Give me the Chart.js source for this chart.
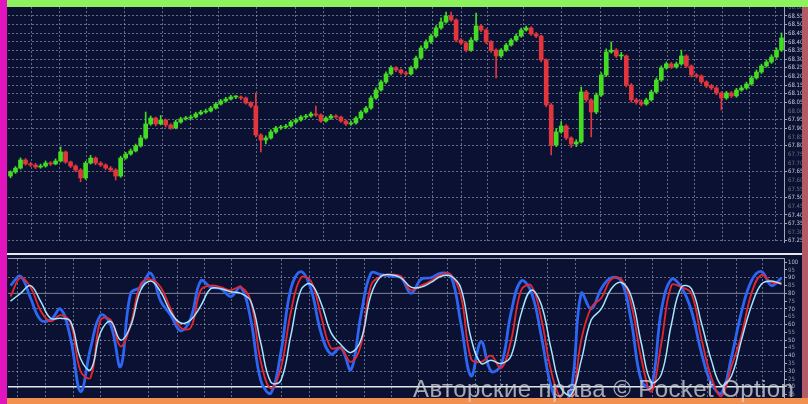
<!DOCTYPE html>
<html>
<head>
<meta charset="utf-8">
<script src="https://cdn.jsdelivr.net/npm/chart.js@4.4.1/dist/chart.umd.min.js"></script>
<style>
  html, body { margin: 0; padding: 0; width: 808px; height: 404px; overflow: hidden; background: #0b1133; }
  body { position: relative; }
  .frame { position: absolute; }
  #priceChart { position: absolute; left: 8px; top: 7px; }
  #stochChart { position: absolute; left: 8px; top: 258px; }
  #watermark {
    position: absolute; left: 413px; top: 377px; z-index: 5;
    font: 24px "Liberation Sans", Arial, sans-serif; line-height: 24px; letter-spacing: 0.4px;
    color: rgba(210, 210, 212, 0.78); white-space: nowrap;
  }
</style>
</head>
<body>
<canvas id="priceChart" width="794" height="236"></canvas>
<canvas id="stochChart" width="794" height="160"></canvas>
<div class="frame" style="left:7px; top:253px; width:795px; height:2px; background:#e6e8ee;"></div>
<div class="frame" style="left:0; top:0; width:7px; height:404px; background:#e214bd;"></div>
<div class="frame" style="left:7px; top:0; width:801px; height:7px; background:#8cf25e;"></div>
<div class="frame" style="left:802px; top:7px; width:6px; height:391px; background:#b35a66;"></div>
<div class="frame" style="left:7px; top:398px; width:801px; height:6px; background:#f2914f;"></div>
<div id="watermark">Авторские права © Pocket Option</div>

<script>
// candles, one per period (opens follow the previous close)
const firstOpen = 67.625;
const closes = [
  67.648, 67.671, 67.718, 67.695, 67.689, 67.677, 67.683, 67.700, 67.695, 67.712,
  67.764, 67.706, 67.683, 67.660, 67.614, 67.700, 67.729, 67.700, 67.689, 67.671,
  67.660, 67.625, 67.729, 67.752, 67.770, 67.799, 67.845, 67.926, 67.960, 67.926,
  67.949, 67.920, 67.903, 67.937, 67.955, 67.960, 67.966, 67.984, 67.995, 68.001,
  68.018, 68.041, 68.059, 68.070, 68.082, 68.082, 68.076, 68.047, 68.030, 67.862,
  67.833, 67.845, 67.880, 67.903, 67.908, 67.914, 67.937, 67.949, 67.966, 67.972,
  67.984, 67.978, 67.943, 67.960, 67.972, 67.966, 67.943, 67.926, 67.932, 67.960,
  67.995, 68.018, 68.076, 68.122, 68.169, 68.215, 68.250, 68.238, 68.221, 68.215,
  68.250, 68.307, 68.365, 68.400, 68.434, 68.481, 68.515, 68.550, 68.527, 68.411,
  68.394, 68.353, 68.411, 68.492, 68.469, 68.400, 68.353, 68.319, 68.353, 68.382,
  68.411, 68.434, 68.469, 68.481, 68.446, 68.434, 68.296, 68.036, 67.804, 67.880,
  67.914, 67.845, 67.810, 67.822, 68.111, 68.065, 67.995, 68.093, 68.209, 68.342,
  68.353, 68.319, 68.319, 68.151, 68.065, 68.053, 68.041, 68.065, 68.111, 68.180,
  68.250, 68.273, 68.255, 68.273, 68.319, 68.261, 68.209, 68.203, 68.169, 68.145,
  68.134, 68.105, 68.076, 68.105, 68.088, 68.122, 68.134, 68.157, 68.192, 68.226,
  68.261, 68.284, 68.313, 68.353, 68.423
];
const highs = [
  67.655, 67.680, 67.730, 67.726, 67.705, 67.698, 67.694, 67.712, 67.708, 67.724,
  67.793, 67.770, 67.712, 67.690, 67.668, 67.710, 67.745, 67.736, 67.708, 67.696,
  67.680, 67.668, 67.740, 67.762, 67.782, 67.810, 67.860, 67.995, 67.972, 67.966,
  67.975, 67.955, 67.928, 67.948, 67.965, 67.970, 67.978, 67.994, 68.005, 68.012,
  68.028, 68.050, 68.068, 68.080, 68.092, 68.090, 68.088, 68.082, 68.055, 68.105,
  67.870, 67.858, 67.892, 67.912, 67.918, 67.924, 67.946, 67.958, 67.975, 67.982,
  67.995, 68.030, 67.985, 67.968, 67.982, 67.980, 67.972, 67.950, 67.942, 67.968,
  68.004, 68.028, 68.088, 68.135, 68.180, 68.228, 68.262, 68.258, 68.245, 68.230,
  68.260, 68.318, 68.378, 68.412, 68.446, 68.494, 68.540, 68.573, 68.573, 68.534,
  68.420, 68.400, 68.425, 68.567, 68.500, 68.476, 68.408, 68.360, 68.362, 68.392,
  68.420, 68.445, 68.480, 68.492, 68.488, 68.455, 68.440, 68.302, 68.045, 67.900,
  67.940, 67.922, 67.852, 67.835, 68.140, 68.120, 68.072, 68.105, 68.222, 68.360,
  68.400, 68.362, 68.340, 68.325, 68.160, 68.075, 68.065, 68.075, 68.122, 68.192,
  68.262, 68.284, 68.282, 68.284, 68.353, 68.326, 68.268, 68.218, 68.210, 68.176,
  68.155, 68.142, 68.112, 68.115, 68.114, 68.132, 68.145, 68.168, 68.204, 68.238,
  68.272, 68.296, 68.326, 68.366, 68.452
];
const lows = [
  67.615, 67.640, 67.665, 67.688, 67.680, 67.668, 67.670, 67.676, 67.686, 67.690,
  67.706, 67.698, 67.674, 67.650, 67.592, 67.606, 67.694, 67.690, 67.680, 67.662,
  67.650, 67.602, 67.618, 67.722, 67.745, 67.764, 67.792, 67.838, 67.918, 67.915,
  67.920, 67.908, 67.895, 67.898, 67.930, 67.948, 67.952, 67.960, 67.978, 67.988,
  67.995, 68.012, 68.035, 68.052, 68.064, 68.072, 68.066, 68.040, 68.020, 67.850,
  67.764, 67.810, 67.838, 67.872, 67.895, 67.900, 67.908, 67.930, 67.942, 67.958,
  67.965, 67.970, 67.935, 67.936, 67.952, 67.958, 67.935, 67.918, 67.918, 67.925,
  67.952, 67.988, 68.010, 68.068, 68.115, 68.160, 68.208, 68.228, 68.212, 68.205,
  68.208, 68.242, 68.300, 68.358, 68.392, 68.426, 68.472, 68.508, 68.518, 68.400,
  68.384, 68.342, 68.345, 68.405, 68.460, 68.390, 68.340, 68.192, 68.310, 68.345,
  68.375, 68.404, 68.428, 68.462, 68.438, 68.425, 68.285, 68.025, 67.747, 67.795,
  67.872, 67.835, 67.790, 67.795, 67.815, 68.055, 67.851, 67.985, 68.085, 68.200,
  68.335, 68.310, 68.300, 68.140, 68.052, 68.040, 68.030, 68.034, 68.058, 68.104,
  68.172, 68.242, 68.246, 68.248, 68.265, 68.252, 68.198, 68.192, 68.158, 68.135,
  68.124, 68.095, 68.007, 68.068, 68.078, 68.080, 68.115, 68.126, 68.150, 68.185,
  68.218, 68.254, 68.276, 68.305, 68.345
];

// stochastic, sampled every second candle
const stochK = [
  85, 91, 77, 63, 63, 70, 51, 17, 45, 66,
  60, 33, 80, 84, 93, 75, 66, 56, 64, 88,
  84, 83, 78, 84, 63, 24, 16, 42, 83, 94,
  83, 55, 41, 45, 31, 66, 93, 92, 91, 90,
  80, 89, 90, 93, 91, 60, 27, 49, 30, 34,
  68, 88, 81, 53, 20, 8, 18, 80, 70, 83,
  90, 88, 62, 24, 20, 69, 89, 84, 69, 42,
  22, 16, 39, 68, 88, 94, 85, 90
];
const stochD = [
  78, 90, 84, 69, 62, 66, 61, 30, 26, 63,
  63, 46, 60, 86, 89, 84, 70, 58, 58, 82,
  85, 84, 82, 84, 75, 36, 19, 32, 68, 90,
  88, 66, 45, 45, 36, 47, 85, 91, 92, 91,
  82, 85, 88, 92, 92, 78, 38, 36, 40, 32,
  50, 82, 85, 64, 30, 12, 11, 50, 71, 77,
  89, 89, 73, 38, 17, 48, 85, 84, 80, 51,
  26, 14, 33, 53, 80, 92, 87, 87
];
const stochSlow = [
  75, 80, 85, 75, 64, 64, 62, 38, 31, 55,
  62, 50, 59, 82, 88, 81, 68, 61, 63, 72,
  83, 83, 81, 80, 75, 48, 23, 24, 53, 82,
  86, 74, 55, 47, 42, 50, 79, 91, 92, 90,
  84, 84, 87, 91, 91, 83, 51, 35, 37, 35,
  40, 67, 82, 73, 44, 19, 15, 37, 63, 70,
  83, 87, 78, 48, 23, 28, 60, 84, 83, 61,
  37, 21, 27, 50, 72, 86, 88, 86
];

// axes
const priceTicks = [67.25, 67.30, 67.35, 67.40, 67.45, 67.50, 67.55, 67.60, 67.65, 67.70,
  67.75, 67.80, 67.85, 67.90, 67.95, 68.00, 68.05, 68.10, 68.15, 68.20,
  68.25, 68.30, 68.35, 68.40, 68.45, 68.50, 68.55, 68.60];
const priceGridTicks = [67.25, 67.35, 67.40, 67.50, 67.65, 67.80, 67.90, 67.95, 68.05, 68.10,
  68.15, 68.20, 68.25, 68.30, 68.35, 68.40, 68.45, 68.50, 68.55];
const stochTicks = [5, 10, 15, 20, 25, 30, 35, 40, 45, 50, 55, 60, 65, 70, 75, 80, 85, 90, 95, 100];
const stochGridTicks = [30, 40, 50, 60, 70, 90];
const stochLevels = [80, 20];
const timeTicks = [1.3, 6.9, 12.5, 17.9, 27.5, 33.3, 38.7, 44.2, 54.2, 59.8, 65.2, 70.8, 76.2,
  81.4, 87.2, 92.8, 97.8, 107.2, 112.8, 122.8, 128.3, 134.1, 139.3, 145.1, 150.3];

const UP = '#44dc22';
const DOWN = '#e3363c';
const GRID = 'rgba(190, 196, 216, 0.5)';
const AXIS = '#a3a8b8';
const FONT = { size: 6, family: '"Liberation Sans Narrow", "DejaVu Sans Condensed", "Liberation Sans", sans-serif' };

const opens = closes.map((c, i) => i === 0 ? firstOpen : closes[i - 1]);
const candleColors = closes.map((c, i) => c >= opens[i] ? UP : DOWN);
const has = (list, v) => list.some(t => Math.abs(t - v) < 1e-6);

const timeAxis = {
    type: 'linear',
    min: -0.5,
    max: closes.length - 0.5,
    offset: false,
    afterBuildTicks: function (scale) {
        scale.ticks = timeTicks.map(v => ({ value: v }));
    },
    ticks: { display: false },
    grid: { color: GRID, drawTicks: false },
    border: { display: true, color: AXIS, dash: [2, 2] },
    afterFit: function (scale) {
        scale.height = 0;
        scale.paddingLeft = 0;
        scale.paddingRight = 0;
    }
};

new Chart(document.getElementById('priceChart'), {
    type: 'bar',
    data: {
        datasets: [
            {
                label: 'body',
                data: closes.map((c, i) => ({ x: i, y: [opens[i], c] })),
                backgroundColor: candleColors,
                barThickness: 4,
                minBarLength: 1,
                grouped: false,
                order: 0
            },
            {
                label: 'wick',
                data: lows.map((l, i) => ({ x: i, y: [l, highs[i]] })),
                backgroundColor: candleColors,
                barThickness: 1,
                grouped: false,
                order: 1
            }
        ]
    },
    options: {
        responsive: false,
        animation: false,
        layout: { padding: 0 },
        plugins: { legend: { display: false }, tooltip: { enabled: false } },
        scales: {
            x: timeAxis,
            y: {
                position: 'right',
                min: 67.238,
                max: 68.602,
                afterBuildTicks: function (scale) {
                    scale.ticks = priceTicks.map(v => ({ value: v }));
                },
                ticks: {
                    autoSkip: false,
                    padding: 1,
                    font: FONT,
                    color: ctx => has(priceGridTicks, ctx.tick.value) ? '#c9ccd6' : '#6d7284',
                    callback: v => v.toFixed(2)
                },
                grid: {
                    color: ctx => has(priceGridTicks, ctx.tick.value) ? GRID : 'rgba(0,0,0,0)',
                    tickColor: ctx => has(priceGridTicks, ctx.tick.value) ? AXIS : 'rgba(0,0,0,0)',
                    tickLength: 3
                },
                border: { display: true, color: AXIS, dash: [2, 2] },
                afterFit: function (scale) {
                    scale.width = 18;
                    scale.paddingTop = 0;
                    scale.paddingBottom = 0;
                }
            }
        }
    }
});

const stochPoints = arr => arr.map((v, k) => ({ x: 2 * k, y: v }));
const levelLine = v => [{ x: -0.5, y: v }, { x: closes.length - 0.5, y: v }];

new Chart(document.getElementById('stochChart'), {
    type: 'line',
    data: {
        datasets: [
            { label: 'slow', data: stochPoints(stochSlow), borderColor: '#a6e6ff', borderWidth: 1.5, tension: 0.4, pointRadius: 0, order: 0 },
            { label: '%D', data: stochPoints(stochD), borderColor: '#e8262e', borderWidth: 1.8, tension: 0.4, pointRadius: 0, order: 1 },
            { label: '%K', data: stochPoints(stochK), borderColor: '#2c66f2', borderWidth: 2.8, tension: 0.4, pointRadius: 0, order: 2 },
            { label: 'level 80', data: levelLine(stochLevels[0]), borderColor: '#7f8598', borderWidth: 1, pointRadius: 0, order: 3 },
            { label: 'level 20', data: levelLine(stochLevels[1]), borderColor: '#e4e6ee', borderWidth: 1.5, pointRadius: 0, order: 3 }
        ]
    },
    options: {
        responsive: false,
        animation: false,
        layout: { padding: 0 },
        plugins: { legend: { display: false }, tooltip: { enabled: false } },
        scales: {
            x: Object.assign({}, timeAxis, { position: 'top' }),
            y: {
                position: 'right',
                min: 0,
                max: 102.7,
                afterBuildTicks: function (scale) {
                    scale.ticks = stochTicks.map(v => ({ value: v }));
                },
                ticks: {
                    autoSkip: false,
                    padding: 1,
                    font: FONT,
                    color: ctx => ctx.tick.value % 10 === 0 ? '#b8bcc8' : '#868b9c'
                },
                grid: {
                    color: ctx => has(stochGridTicks, ctx.tick.value) ? GRID : 'rgba(0,0,0,0)',
                    tickColor: AXIS,
                    tickLength: 3
                },
                border: { display: true, color: AXIS, dash: [2, 2] },
                afterFit: function (scale) {
                    scale.width = 18;
                    scale.paddingTop = 0;
                    scale.paddingBottom = 0;
                }
            }
        }
    }
});
</script>
</body>
</html>
